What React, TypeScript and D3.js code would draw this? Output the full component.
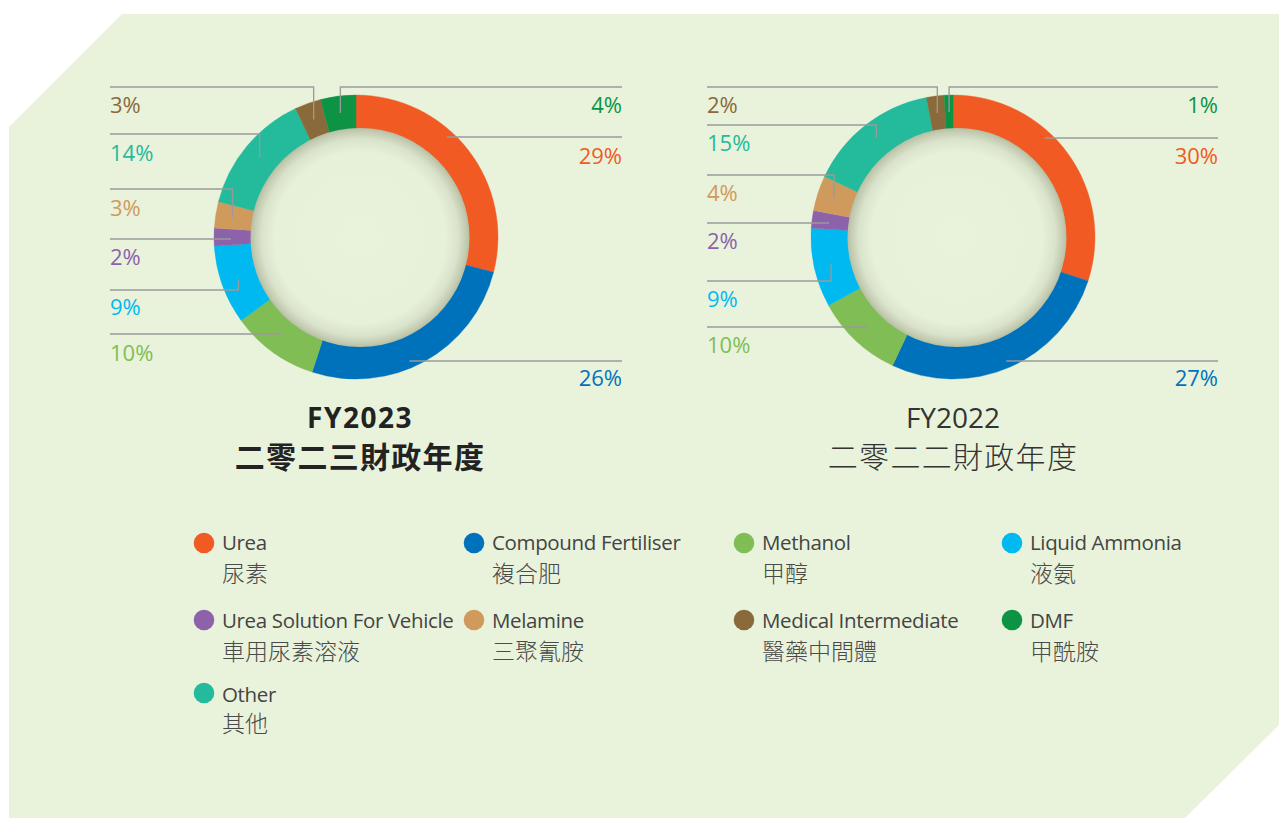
import React from "react";
import * as d3 from "d3";

const categoriesEn = [
  "Urea",
  "Compound Fertiliser",
  "Methanol",
  "Liquid Ammonia",
  "Urea Solution For Vehicle",
  "Melamine",
  "Medical Intermediate",
  "DMF",
  "Other",
];
const categoriesZh = ["尿素", "複合肥", "甲醇", "液氨", "車用尿素溶液", "三聚氰胺", "醫藥中間體", "甲酰胺", "其他"];
const colors = ["#f15a22", "#0072bc", "#80bd55", "#00b9f1", "#8c62aa", "#d09a5c", "#8a6a3b", "#0c9444", "#23bb9b"];

// ring order (clockwise from 12 o'clock)
const ringOrder = [0, 1, 2, 3, 4, 5, 8, 6, 7];
const fy2023Values = [29, 26, 10, 9, 2, 3, 14, 3, 4];
const fy2022Values = [30, 27, 10, 9, 2, 4, 15, 2, 1];
const fy2023Titles = ["FY2023", "二零二三財政年度"];
const fy2022Titles = ["FY2022", "二零二二財政年度"];

// label layout (in ring order)
const labelSide = ["R", "R", "L", "L", "L", "L", "L", "L", "R"];
const fy2023LineY = [137, 361, 334, 290, 239, 189, 134, 87, 87];
const fy2023TextY = [164, 386, 361, 315, 265, 216, 161, 113, 113];
const fy2022LineY = [138, 361, 327, 281, 223, 175, 125, 87, 87];
const fy2022TextY = [164, 386, 353, 307, 249, 201, 151, 113, 113];

const LATIN = "'Open Sans', 'Noto Sans', sans-serif";
const CJK = "'Noto Sans CJK TC', 'Noto Sans CJK SC', sans-serif";

type DonutProps = {
  id: string;
  cx: number;
  cy: number;
  values: number[];
  lineY: number[];
  textY: number[];
  leftX: number;
  rightX: number;
  titles: string[];
  titleX: number;
  bold: boolean;
};

function Donut({ id, cx, cy, values, lineY, textY, leftX, rightX, titles, titleX, bold }: DonutProps) {
  const outerR = 142;
  const innerR = 100;
  const pie = d3.pie<number>().sort(null).value((d) => d);
  const arcs = pie(values);
  const arc = d3.arc<d3.PieArcDatum<number>>().innerRadius(innerR).outerRadius(outerR);
  const anchorArc = d3.arc<d3.PieArcDatum<number>>().innerRadius(125).outerRadius(125);
  const hitR = 135;

  const leaders = arcs.map((a, i) => {
    const [ax0, ay0] = anchorArc.centroid(a);
    const ax = cx + ax0;
    const ay = cy + ay0;
    const ly = lineY[i];
    const side = labelSide[i];
    let d = "";
    if (side === "L") {
      if (Math.abs(ay - ly) < 6) d = `M${leftX},${ly}H${ax}`;
      else d = `M${leftX},${ly}H${ax}V${ay}`;
    } else {
      const dy = ly - cy;
      if (Math.abs(dy) < hitR) {
        const x = cx + Math.sqrt(hitR * hitR - dy * dy);
        d = `M${rightX},${ly}H${x}`;
      } else {
        d = `M${ax},${ay}V${ly}H${rightX}`;
      }
    }
    return d;
  });

  return (
    <g>
      <defs>
        <radialGradient id={`disc-${id}`} cx="50%" cy="50%" r="50%">
          <stop offset="0%" stopColor="#e9f3dc" />
          <stop offset="78%" stopColor="#e7f1da" />
          <stop offset="90%" stopColor="#d9e2ca" />
          <stop offset="97%" stopColor="#c3cbb1" />
          <stop offset="100%" stopColor="#b6bea4" />
        </radialGradient>
      </defs>
      <g transform={`translate(${cx},${cy})`}>
        {arcs.map((a, i) => (
          <path key={i} d={arc(a) || ""} fill={colors[ringOrder[i]]} stroke={colors[ringOrder[i]]} strokeWidth={0.4} />
        ))}
      </g>
      <circle cx={cx + 4} cy={cy + 0.5} r={109.5} fill={`url(#disc-${id})`} />
      {leaders.map((d, i) => (
        <path key={i} d={d} fill="none" stroke="#9a9a9a" strokeWidth={1.3} />
      ))}
      {values.map((v, i) => (
        <text
          key={i}
          x={labelSide[i] === "L" ? leftX : rightX}
          y={textY[i]}
          textAnchor={labelSide[i] === "L" ? "start" : "end"}
          fontFamily={LATIN}
          fontSize={22}
          fill={colors[ringOrder[i]]}
        >
          {`${v}%`}
        </text>
      ))}
      <text
        x={titleX}
        y={428}
        textAnchor="middle"
        fontFamily={LATIN}
        fontSize={28}
        fontWeight={bold ? 700 : 400}
        letterSpacing={bold ? 1.5 : 0}
        fill={bold ? "#222" : "#333"}
      >
        {titles[0]}
      </text>
      <text
        x={titleX}
        y={468}
        textAnchor="middle"
        fontFamily={CJK}
        fontSize={30}
        fontWeight={bold ? 600 : 300}
        letterSpacing={1.3}
        fill={bold ? "#222" : "#333"}
      >
        {titles[1]}
      </text>
    </g>
  );
}

const legendColX = [204, 474, 744, 1012];
const legendDotY = [543, 620, 693];
const legendEnY = [550, 628, 702];
const legendZhY = [582, 660, 732];

export default function App() {
  return (
    <svg
      width={1279}
      height={818}
      style={{ position: "absolute", left: 0, top: 0, display: "block" }}
    >
      <rect x={0} y={0} width={1279} height={818} fill="#ffffff" />
      <polygon points="9,127 122,14 1279,14 1279,725 1185,818 9,818" fill="#e9f3dc" />
      <Donut
        id="a"
        cx={356}
        cy={237}
        values={fy2023Values}
        lineY={fy2023LineY}
        textY={fy2023TextY}
        leftX={110}
        rightX={622}
        titles={fy2023Titles}
        titleX={360}
        bold={true}
      />
      <Donut
        id="b"
        cx={953}
        cy={237}
        values={fy2022Values}
        lineY={fy2022LineY}
        textY={fy2022TextY}
        leftX={707}
        rightX={1218}
        titles={fy2022Titles}
        titleX={953}
        bold={false}
      />
      {categoriesEn.map((en, i) => {
        const row = Math.floor(i / 4);
        const col = i % 4;
        const x = legendColX[col];
        return (
          <g key={i}>
            <circle cx={x} cy={legendDotY[row]} r={10.3} fill={colors[i]} />
            <text
              x={x + 18}
              y={legendEnY[row]}
              fontFamily={LATIN}
              fontSize={20.5}
              letterSpacing={-0.35}
              fill="#444"
            >
              {en}
            </text>
            <text x={x + 18} y={legendZhY[row]} fontFamily={CJK} fontSize={23} fontWeight={300} fill="#4a4a4a">
              {categoriesZh[i]}
            </text>
          </g>
        );
      })}
    </svg>
  );
}
